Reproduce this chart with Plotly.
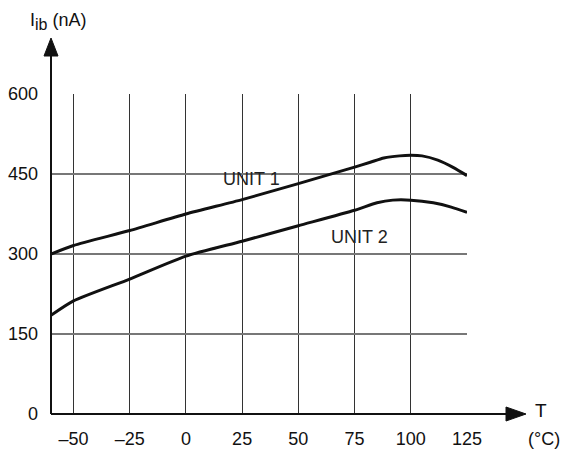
import plotly.graph_objects as go

# Data
temp_unit1 = [-60, -50, -25, 0, 25, 50, 75, 82, 88, 95, 100, 105, 112, 119, 125]
ib_unit1 = [300, 316, 344, 375, 402, 432, 463, 472, 480, 484, 485, 484, 476, 462, 447]
temp_unit2 = [-60, -50, -25, 0, 25, 50, 75, 85, 92, 100, 110, 118, 125]
ib_unit2 = [185, 212, 253, 296, 324, 353, 382, 396, 401, 401, 396, 388, 378]

x_ticks = [-50, -25, 0, 25, 50, 75, 100, 125]
x_ticklabels = ["–50", "–25", "0", "25", "50", "75", "100", "125"]
y_ticks = [0, 150, 300, 450, 600]
y_ticklabels = ["0", "150", "300", "450", "600"]

FONT = "Liberation Sans, Arial, sans-serif"

fig = go.Figure()
fig.add_trace(go.Scatter(x=temp_unit1, y=ib_unit1, mode="lines",
                         line=dict(color="#111", width=3, shape="spline", smoothing=0.6),
                         showlegend=False, hoverinfo="skip"))
fig.add_trace(go.Scatter(x=temp_unit2, y=ib_unit2, mode="lines",
                         line=dict(color="#111", width=3, shape="spline", smoothing=0.6),
                         showlegend=False, hoverinfo="skip"))

W, H = 570, 453
L, R, T, B = 51, 103, 94, 39
pw = W - L - R
ph = H - T - B

def px_x(p):
    return (p - L) / pw

def px_y(p):
    return (H - B - p) / ph

shapes = [
    # white gap in the 450 gridline behind the UNIT 1 label
    dict(type="rect", xref="x", yref="y", x0=12.5, x1=44.5, y0=444, y1=456,
         fillcolor="white", line=dict(width=0), layer="below"),
    # x axis line with arrow
    dict(type="line", xref="paper", yref="paper", x0=0, x1=px_x(510), y0=0, y1=0,
         line=dict(color="#111", width=2)),
    dict(type="path", xref="paper", yref="paper",
         path=f"M {px_x(506)},{px_y(407)} L {px_x(526)},{px_y(414)} L {px_x(506)},{px_y(421)} Z",
         fillcolor="#111", line=dict(color="#111", width=1)),
    # y axis line with arrow
    dict(type="line", xref="paper", yref="paper", x0=0, x1=0, y0=0, y1=px_y(50),
         line=dict(color="#111", width=2)),
    dict(type="path", xref="paper", yref="paper",
         path=f"M {px_x(44)},{px_y(56)} L {px_x(51)},{px_y(38)} L {px_x(58)},{px_y(56)} Z",
         fillcolor="#111", line=dict(color="#111", width=1)),
]

annotations = [
    dict(text="UNIT 1", x=29, y=441, xref="x", yref="y", showarrow=False,
         font=dict(family=FONT, size=18, color="#222"),
         xanchor="center", yanchor="middle"),
    dict(text="UNIT 2", x=77, y=331, xref="x", yref="y", showarrow=False,
         font=dict(family=FONT, size=18, color="#222"),
         xanchor="center", yanchor="middle"),
    dict(text="I<sub><span style='font-size:16px'>ib</span></sub> (nA)",
         x=px_x(28), y=px_y(22), xref="paper", yref="paper",
         showarrow=False, font=dict(family=FONT, size=18, color="#111"),
         xanchor="left", yanchor="middle"),
    dict(text="T", x=px_x(541), y=px_y(410), xref="paper", yref="paper",
         showarrow=False, font=dict(family=FONT, size=19, color="#111"),
         xanchor="center", yanchor="middle"),
    dict(text="(°C)", x=px_x(544), y=px_y(439), xref="paper", yref="paper",
         showarrow=False, font=dict(family=FONT, size=18, color="#111"),
         xanchor="center", yanchor="middle"),
]

fig.update_layout(
    width=W, height=H,
    margin=dict(l=L, r=R, t=T, b=B, pad=0, autoexpand=False),
    paper_bgcolor="white", plot_bgcolor="white",
    font=dict(family=FONT, size=18, color="#111"),
    shapes=shapes, annotations=annotations,
    xaxis=dict(range=[-60, 125], tickvals=x_ticks, ticktext=x_ticklabels,
               showgrid=True, gridcolor="#333", gridwidth=1, zeroline=False,
               showline=False, ticks="", ticklabelstandoff=12, fixedrange=True,
               automargin=False),
    yaxis=dict(range=[0, 600], tickvals=y_ticks, ticktext=y_ticklabels,
               showgrid=True, gridcolor="#777", gridwidth=1.5, zeroline=False,
               showline=False, ticks="", ticklabelstandoff=12, fixedrange=True,
               automargin=False),
)

fig.write_html("out.html", config={"displayModeBar": False},
               post_script="document.body.style.margin='0';document.body.style.overflow='hidden';")
